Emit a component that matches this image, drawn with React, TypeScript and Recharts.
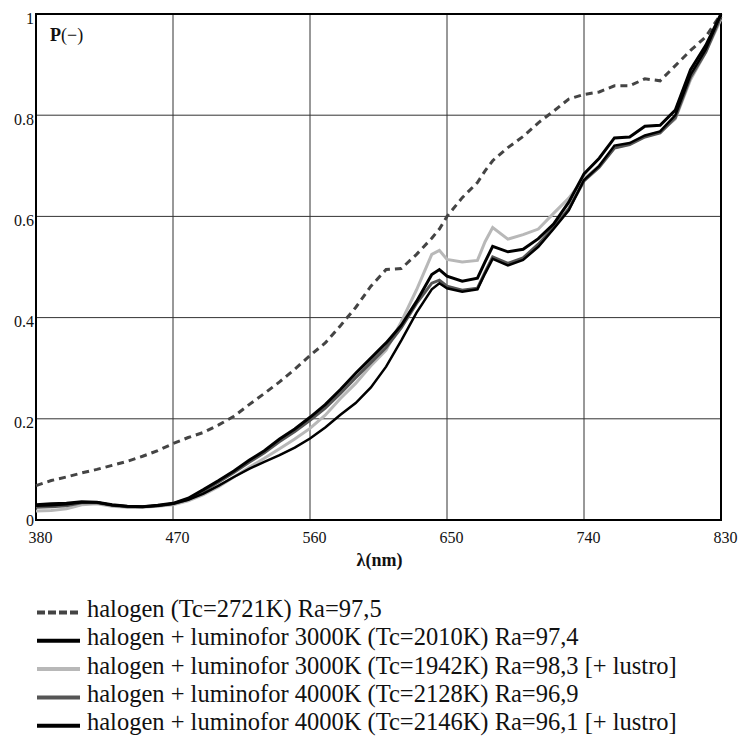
import React from "react";
import {
  CartesianGrid,
  Line,
  LineChart,
  ReferenceArea,
  XAxis,
  YAxis,
} from "recharts";

// wavelength grid (nm)
const lambda = [
  380, 390, 400, 410, 420, 430, 440, 450, 460, 470, 480, 490, 500, 510, 520,
  530, 540, 550, 560, 570, 580, 590, 600, 610, 620, 630, 640, 645, 650, 660,
  670, 675, 680, 690, 700, 710, 720, 730, 740, 750, 760, 770, 780, 790, 800,
  810, 820, 830,
];

const halogen = [
  0.068, 0.078, 0.085, 0.093, 0.1, 0.108, 0.116, 0.126, 0.137, 0.151, 0.163,
  0.173, 0.188, 0.205, 0.228, 0.25, 0.273, 0.298, 0.325, 0.35, 0.384, 0.42,
  0.462, 0.495, 0.497, 0.525, 0.557, 0.575, 0.6, 0.637, 0.667, 0.69, 0.71,
  0.736, 0.758, 0.785, 0.808, 0.832, 0.841, 0.846, 0.858, 0.858, 0.872, 0.868,
  0.898, 0.928, 0.955, 1.0,
];

const lum3000 = [
  0.03, 0.032, 0.033, 0.036, 0.035, 0.03, 0.027, 0.026, 0.029, 0.033, 0.043,
  0.06, 0.078, 0.097, 0.118, 0.137, 0.16, 0.18, 0.203, 0.228, 0.258, 0.29,
  0.32, 0.35, 0.385, 0.432, 0.485, 0.495, 0.482, 0.472, 0.478, 0.51, 0.541,
  0.53, 0.535, 0.556, 0.585, 0.628, 0.684, 0.715, 0.755, 0.757, 0.778, 0.78,
  0.81, 0.89, 0.938, 1.0,
];

const lum3000Lustro = [
  0.018, 0.019, 0.022, 0.03, 0.032, 0.027, 0.025, 0.025, 0.027, 0.03, 0.038,
  0.05, 0.066, 0.085, 0.104, 0.122, 0.141, 0.16, 0.181, 0.207, 0.24, 0.27,
  0.305, 0.336, 0.392, 0.455, 0.525, 0.533, 0.515, 0.51, 0.513, 0.55, 0.578,
  0.555, 0.564, 0.575, 0.606, 0.636, 0.675, 0.7, 0.736, 0.743, 0.758, 0.767,
  0.793, 0.87, 0.925, 0.99,
];

const lum4000 = [
  0.025, 0.026, 0.028, 0.034, 0.034, 0.029, 0.026, 0.026, 0.028, 0.032, 0.041,
  0.057, 0.075, 0.094, 0.114, 0.133, 0.155, 0.175, 0.197, 0.221, 0.25, 0.281,
  0.311, 0.341, 0.38, 0.428, 0.468, 0.474, 0.462, 0.454, 0.458, 0.49, 0.52,
  0.507, 0.518, 0.545, 0.578, 0.615, 0.67, 0.697, 0.735, 0.742, 0.757, 0.765,
  0.795, 0.875, 0.925, 0.995,
];

const lum4000Lustro = [
  0.028, 0.029, 0.031, 0.035, 0.035, 0.029, 0.027, 0.026, 0.028, 0.032, 0.04,
  0.052, 0.068, 0.085, 0.101, 0.115, 0.128, 0.143, 0.161, 0.183, 0.208, 0.231,
  0.262, 0.303, 0.355, 0.41, 0.456, 0.468, 0.458, 0.451, 0.456, 0.487, 0.516,
  0.503, 0.514, 0.54, 0.575, 0.612, 0.672, 0.7, 0.74, 0.745, 0.76, 0.768, 0.8,
  0.88, 0.93, 1.0,
];

const xTicks = [380, 470, 560, 650, 740, 830];
const yTicks = [0, 0.2, 0.4, 0.6, 0.8, 1];

const data = lambda.map((l, i) => ({
  lambda: l,
  halogen: halogen[i],
  lum3000: lum3000[i],
  lum3000Lustro: lum3000Lustro[i],
  lum4000: lum4000[i],
  lum4000Lustro: lum4000Lustro[i],
}));

// legend order
const series = [
  {
    key: "halogen",
    name: "halogen (Tc=2721K) Ra=97,5",
    color: "#444",
    width: 3,
    dash: "7 5",
  },
  {
    key: "lum3000",
    name: "halogen + luminofor 3000K (Tc=2010K) Ra=97,4",
    color: "#000",
    width: 3,
  },
  {
    key: "lum3000Lustro",
    name: "halogen + luminofor 3000K (Tc=1942K) Ra=98,3 [+ lustro]",
    color: "#b8b8b8",
    width: 3,
  },
  {
    key: "lum4000",
    name: "halogen + luminofor 4000K (Tc=2128K) Ra=96,9",
    color: "#555",
    width: 3,
  },
  {
    key: "lum4000Lustro",
    name: "halogen + luminofor 4000K (Tc=2146K) Ra=96,1 [+ lustro]",
    color: "#000",
    width: 2.5,
  },
];

// draw order so the black curves stay on top
const drawOrder = ["halogen", "lum3000Lustro", "lum4000", "lum4000Lustro", "lum3000"];

const serif = "Liberation Serif, Times New Roman, DejaVu Serif, serif";

const XTick = (props: any) => (
  <text
    x={props.x + 4.5}
    y={props.y + 15}
    textAnchor="middle"
    style={{ fontFamily: serif, fontSize: 16 }}
    fill="#111"
  >
    {props.payload.value}
  </text>
);

const YTick = (props: any) => (
  <text
    x={34}
    y={props.y + (props.payload.value === 0 ? 6 : 9.5)}
    textAnchor="end"
    style={{ fontFamily: serif, fontSize: 16 }}
    fill="#111"
  >
    {props.payload.value}
  </text>
);

export default function App() {
  return (
    <div
      style={{
        position: "absolute",
        left: 0,
        top: 0,
        width: 741,
        height: 745,
        background: "#fff",
        fontFamily: serif,
      }}
    >
      <LineChart
        width={741}
        height={580}
        data={data}
        margin={{ top: 14, right: 20, left: 6, bottom: 30 }}
      >
        <CartesianGrid stroke="#333" strokeWidth={1} />
        <XAxis
          type="number"
          dataKey="lambda"
          domain={[380, 830]}
          ticks={xTicks}
          tick={<XTick />}
          tickLine={false}
          axisLine={false}
          height={30}
          label={{
            value: "λ(nm)",
            position: "bottom",
            offset: 0,
            dy: 3,
            dx: 1,
            style: { fontFamily: serif, fontSize: 18, fontWeight: "bold" },
            fill: "#111",
          }}
        />
        <YAxis
          type="number"
          domain={[0, 1]}
          ticks={yTicks}
          tick={<YTick />}
          tickLine={false}
          axisLine={false}
          width={30}
        />
        <ReferenceArea
          x1={380}
          x2={830}
          y1={0}
          y2={1}
          fill="none"
          stroke="#000"
          strokeWidth={2}
          ifOverflow="visible"
        />
        {drawOrder.map((k) => {
          const s = series.find((q) => q.key === k)!;
          return (
            <Line
              key={s.key}
              type="linear"
              dataKey={s.key}
              name={s.name}
              stroke={s.color}
              strokeWidth={s.width}
              strokeDasharray={s.dash}
              dot={false}
              isAnimationActive={false}
            />
          );
        })}
      </LineChart>
      <div
        style={{
          position: "absolute",
          left: 50,
          top: 25,
          fontFamily: serif,
          fontSize: 18,
          color: "#111",
        }}
      >
        <b>P</b>(−)
      </div>
      <svg
        width={741}
        height={165}
        style={{ position: "absolute", left: 0, top: 580 }}
      >
        {series.map((s, i) => {
          const base = 37 + i * 28.3;
          return (
            <g key={s.key}>
              <line
                x1={37}
                x2={80}
                y1={base - 4.5}
                y2={base - 4.5}
                stroke={s.color}
                strokeWidth={4}
                strokeDasharray={s.key === "halogen" ? "8 3" : undefined}
              />
              <text
                x={87}
                y={base}
                style={{ fontFamily: serif, fontSize: 24.5 }}
                fill="#111"
              >
                {s.name}
              </text>
            </g>
          );
        })}
      </svg>
    </div>
  );
}
